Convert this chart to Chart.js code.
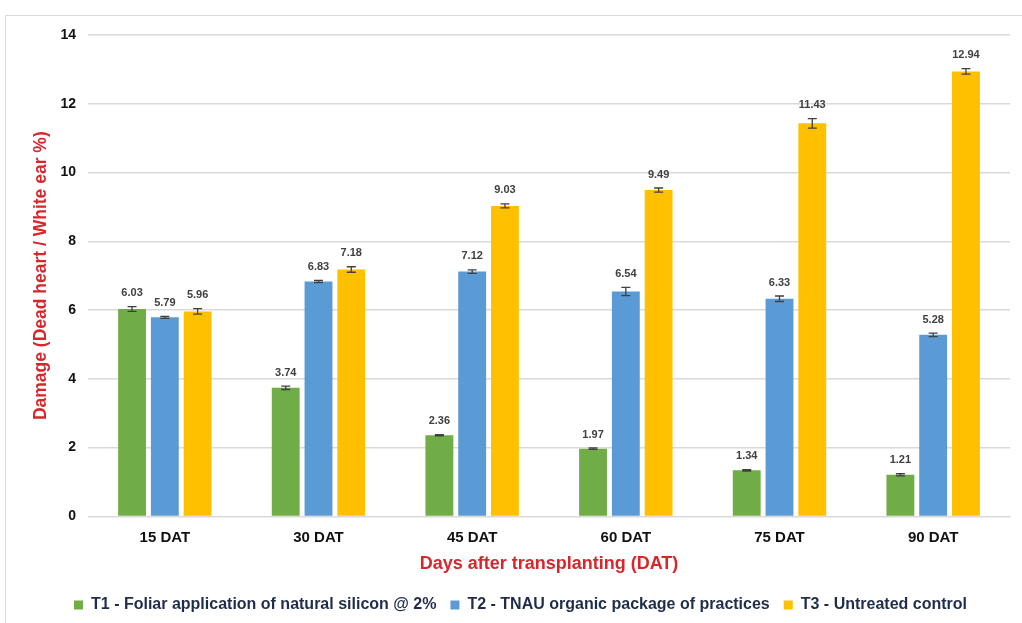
<!DOCTYPE html>
<html>
<head>
<meta charset="utf-8">
<script src="https://cdn.jsdelivr.net/npm/chart.js@4"></script>
<style>
  html, body { margin: 0; padding: 0; background: #fff; }
  #frame { position: absolute; left: 5px; top: 15px; width: 1030px; height: 620px; border: 1px solid #d9d9d9; }
  #wrap { position: absolute; left: 0; top: 0; width: 1022px; height: 623px; }
</style>
</head>
<body>
<div id="frame"></div>
<div id="wrap"><canvas id="canvasChart"></canvas></div>
<script>
const categories = ['15 DAT', '30 DAT', '45 DAT', '60 DAT', '75 DAT', '90 DAT']
const t1Values = [6.03, 3.74, 2.36, 1.97, 1.34, 1.21]
const t2Values = [5.79, 6.83, 7.12, 6.54, 6.33, 5.28]
const t3Values = [5.96, 7.18, 9.03, 9.49, 11.43, 12.94]
const t1Errors = [0.07, 0.05, 0.02, 0.02, 0.02, 0.03]
const t2Errors = [0.03, 0.03, 0.05, 0.12, 0.08, 0.05]
const t3Errors = [0.08, 0.08, 0.06, 0.06, 0.14, 0.08]
const yTicks = [0, 2, 4, 6, 8, 10, 12, 14]

const errorsBySet = [t1Errors, t2Errors, t3Errors]
const FONT = '"Liberation Sans", Arial'

// error bars + value labels on top of each bar
const barExtras = {
  id: 'barExtras',
  afterDatasetsDraw(chart) {
    const ctx = chart.ctx
    const y = chart.scales.y
    ctx.save()
    chart.data.datasets.forEach((ds, di) => {
      const meta = chart.getDatasetMeta(di)
      meta.data.forEach((bar, i) => {
        const v = ds.data[i]
        const e = errorsBySet[di][i]
        const yTop = y.getPixelForValue(v + e)
        const yBot = y.getPixelForValue(v - e)
        ctx.strokeStyle = '#404040'
        ctx.lineWidth = 1.3
        ctx.beginPath()
        ctx.moveTo(bar.x, yTop); ctx.lineTo(bar.x, yBot)
        ctx.moveTo(bar.x - 4.5, yTop); ctx.lineTo(bar.x + 4.5, yTop)
        ctx.moveTo(bar.x - 4.5, yBot); ctx.lineTo(bar.x + 4.5, yBot)
        ctx.stroke()
        ctx.fillStyle = '#404040'
        ctx.font = 'bold 11px ' + FONT
        ctx.textAlign = 'center'
        ctx.textBaseline = 'bottom'
        ctx.fillText(v.toFixed(2), bar.x, yTop - 8)
      })
    })
    ctx.restore()
  },
}

new Chart(document.getElementById('canvasChart'), {
  type: 'bar',
  data: {
    labels: categories,
    datasets: [
      { label: 'T1 - Foliar application of natural silicon @ 2%', data: t1Values, backgroundColor: '#70ad47' },
      { label: 'T2 - TNAU organic package of practices', data: t2Values, backgroundColor: '#5b9bd5' },
      { label: 'T3 - Untreated control', data: t3Values, backgroundColor: '#ffc000' },
    ],
  },
  options: {
    responsive: true,
    maintainAspectRatio: false,
    animation: false,
    layout: { padding: { top: 35, right: 12, left: 31, bottom: 0 } },
    datasets: { bar: { categoryPercentage: 0.64, barPercentage: 0.85 } },
    scales: {
      x: {
        grid: { display: false },
        border: { color: '#d9d9d9' },
        ticks: { color: '#111', font: { family: FONT, size: 15, weight: 'bold' }, padding: 4 },
        title: {
          display: true,
          text: 'Days after transplanting (DAT)',
          color: '#d9262b',
          font: { family: FONT, size: 18, weight: 'bold' },
          padding: { top: 3, bottom: 8 },
        },
      },
      y: {
        min: 0,
        max: 14,
        afterBuildTicks: (scale) => { scale.ticks = yTicks.map((v) => ({ value: v })) },
        afterFit: (scale) => { scale.width = 57 },
        grid: { color: '#d9d9d9', lineWidth: 1.5, drawTicks: false },
        border: { display: false },
        ticks: { color: '#111', font: { family: FONT, size: 14, weight: 'bold' }, padding: 12 },
        title: {
          display: true,
          text: 'Damage (Dead heart / White ear %)',
          color: '#d9262b',
          font: { family: FONT, size: 17.5, weight: 'bold' },
          padding: { top: 0, bottom: 8 },
        },
      },
    },
    plugins: {
      legend: {
        position: 'bottom',
        labels: {
          boxWidth: 9,
          boxHeight: 9,
          padding: 14,
          color: '#1f2d4a',
          font: { family: FONT, size: 16, weight: 'bold' },
        },
      },
      tooltip: { enabled: false },
    },
  },
  plugins: [barExtras],
})
</script>
</body>
</html>
